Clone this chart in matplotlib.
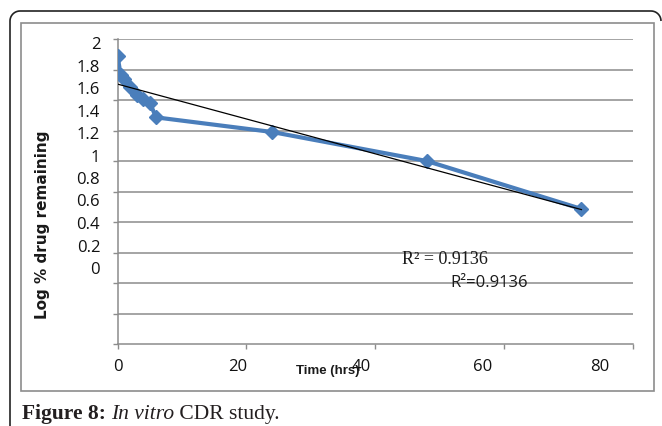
import numpy as np
import matplotlib
matplotlib.use('Agg')
import matplotlib.pyplot as plt
from matplotlib.patches import Rectangle, PathPatch
from matplotlib.path import Path

# values
time_hrs = [0, 0.5, 1, 2, 3, 4, 5, 6, 24, 48, 72]
log_remaining = [1.875, 1.707, 1.67, 1.60, 1.53, 1.49, 1.46, 1.33, 1.20, 0.942, 0.516]

y_tick_vals = [0, 0.2, 0.4, 0.6, 0.8, 1.0, 1.2, 1.4, 1.6, 1.8, 2.0]
y_tick_lbls = ['0', '0.2', '0.4', '0.6', '0.8', '1', '1.2', '1.4', '1.6', '1.8', '2']
x_tick_lbls = ['0', '20', '40', '60', '80']
x_lbl_pos = [0, 18.7, 37.8, 56.6, 74.8]   # labels sit off their ticks in the original
r2_text = 'R\u00b2 = 0.9136'
r2_text2 = 'R\u00b2=0.9136'

W, H = 662, 427


def fx(px):
    return px / W


def fy(py):
    return 1 - py / H


def main():
    fig = plt.figure(figsize=(W / 100, H / 100), dpi=100)
    fig.patch.set_facecolor('white')

    blue = '#4a7ebb'
    grid_clr = '#8c8c8c'

    # outer rounded frame (left + top edges only) and inner chart border
    r = 10
    t = np.linspace(np.pi, np.pi / 2, 12)
    verts = [(10, 427), (10, 12 + r)]
    verts += [(10 + r + r * np.cos(a), 12 + r - r * np.sin(a)) for a in t]
    verts += [(651, 12)]
    t2 = np.linspace(np.pi / 2, 0, 12)
    verts += [(651 + r * np.cos(a), 12 + r - r * np.sin(a)) for a in t2]
    verts = [(fx(a), fy(b)) for a, b in verts]
    fig.patches.append(PathPatch(Path(verts), transform=fig.transFigure, fill=False,
                                 edgecolor='#222222', lw=1.2))
    fig.patches.append(Rectangle((fx(21), fy(392)), fx(654) - fx(21), fy(24) - fy(392),
                                 transform=fig.transFigure, fill=False,
                                 edgecolor=grid_clr, lw=1.2))

    ax = fig.add_axes([fx(117.5), fy(345), fx(633) - fx(117.5), fy(40) - fy(345)])
    y_lo, y_hi = (268 - 345) / 112.5, (268 - 40) / 112.5
    ax.set_xlim(0, 80)
    ax.set_ylim(y_lo, y_hi)
    ax.xaxis.remove_overlapping_locs = False
    ax.yaxis.remove_overlapping_locs = False

    # gridlines are evenly spaced and do not line up with the value labels
    grid_y = np.linspace(y_lo, y_hi, 11)
    ax.set_yticks(grid_y)
    ax.set_yticklabels([])
    for g in grid_y[1:]:
        ax.axhline(g, color=grid_clr, lw=1.1, zorder=0)

    ax.set_yticks(y_tick_vals, minor=True)
    ax.set_yticklabels(y_tick_lbls, minor=True, fontfamily='Open Sans', fontsize=12)
    ax.set_xticks([0, 20, 40, 60, 80])
    ax.set_xticklabels([])
    ax.set_xticks(x_lbl_pos, minor=True)
    ax.set_xticklabels(x_tick_lbls, minor=True, fontfamily='Open Sans', fontsize=12)

    ax.tick_params(which='major', length=3.6, width=1, color=grid_clr, direction='out')
    ax.tick_params(axis='y', which='minor', length=0, pad=12.5, labelcolor='#111111')
    ax.tick_params(axis='x', which='minor', length=0, pad=10, labelcolor='#111111')

    for s in ['top', 'right']:
        ax.spines[s].set_visible(False)
    for s in ['left', 'bottom']:
        ax.spines[s].set_color(grid_clr)
        ax.spines[s].set_linewidth(1.1)

    ax.plot(time_hrs, log_remaining, color=blue, lw=3, marker='D', markersize=7.5,
            markerfacecolor=blue, markeredgecolor=blue, zorder=3)

    k, b = np.polyfit(time_hrs, log_remaining, 1)
    xs = np.array([min(time_hrs), max(time_hrs)])
    ax.plot(xs, k * xs + b, color='black', lw=0.9, zorder=4)

    fig.text(fx(43), fy(225), 'Log % drug remaining', rotation=90, ha='center', va='center',
             fontsize=11, fontweight='bold', color='#1a1a1a')
    fig.text(fx(328), fy(371), 'Time (hrs)', ha='center', va='center',
             fontsize=9.5, fontweight='bold', family='Liberation Sans', color='#1a1a1a')
    fig.text(fx(402), fy(259), r2_text, ha='left', va='center',
             fontsize=13, family='Liberation Serif', color='#1a1a1a')
    fig.text(fx(450), fy(283), r2_text2, ha='left', va='center',
             fontsize=12, family='Open Sans', color='#1a1a1a')

    # caption with mixed styles
    renderer = fig.canvas.get_renderer()
    x0 = fx(22)
    parts = [('Figure 8: ', 'bold', 'normal'), ('In vitro', 'normal', 'italic'),
             (' CDR study.', 'normal', 'normal')]
    for txt, wt, st in parts:
        tt = fig.text(x0, fy(419), txt, ha='left', va='baseline', fontsize=15.5,
                      family='Liberation Serif', fontweight=wt, fontstyle=st, color='#231f20')
        bb = tt.get_window_extent(renderer=renderer)
        x0 += bb.width / W

    fig.savefig('out.png', dpi=100, facecolor='white')


if __name__ == '__main__':
    main()
